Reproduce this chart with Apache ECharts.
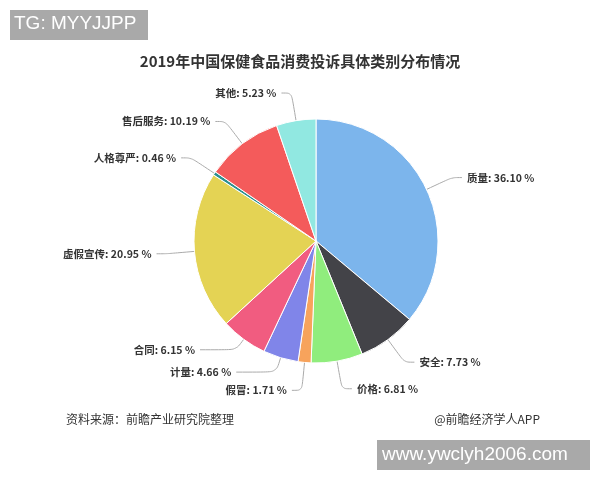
<!DOCTYPE html>
<html>
<head>
<meta charset="utf-8">
<script src="https://cdn.jsdelivr.net/npm/echarts@6/dist/echarts.min.js"></script>
<style>html,body{margin:0;padding:0;background:#fff}#c{width:600px;height:480px}</style>
</head>
<body>
<div id="c"></div>
<script>
var categories = ['质量', '安全', '价格', '假冒', '计量', '合同', '虚假宣传', '人格尊严', '售后服务', '其他'];
var values = [36.10, 7.73, 6.81, 1.71, 4.66, 6.15, 20.95, 0.46, 10.19, 5.23];
var colors = ['#7cb5ec', '#434348', '#90ed7d', '#f7a35c', '#8085e9', '#f15c80', '#e4d354', '#2b908f', '#f45b5b', '#91e8e1'];
var titleText = '2019年中国保健食品消费投诉具体类别分布情况';
var sourceText = '资料来源：前瞻产业研究院整理';
var creditText = '@前瞻经济学人APP';

// connector tweaks for the two lower-left labels (style only)
var lineTweaks = { '计量': { length: 15, length2: 40 }, '合同': { length: 13, length2: 36 } };

var chart = echarts.init(document.getElementById('c'));
var data = categories.map(function (c, i) {
  var d = { name: c, value: values[i] };
  if (lineTweaks[c]) d.labelLine = lineTweaks[c];
  return d;
});
chart.setOption({
  color: colors,
  animation: false,
  title: {
    text: titleText, left: 'center', top: 49,
    textStyle: { fontSize: 15, fontWeight: 'bold', color: '#333', fontFamily: 'Noto Sans CJK SC' }
  },
  graphic: [
    { type: 'rect', left: 10, top: 10, shape: { width: 138, height: 30 }, style: { fill: '#a9a9a9' } },
    { type: 'text', left: 14, top: 14, style: { text: 'TG: MYYJJPP', fill: '#fff', font: '19px "Liberation Sans", Arial' } },
    { type: 'rect', left: 377, top: 440, shape: { width: 213, height: 30 }, style: { fill: '#a9a9a9' } },
    { type: 'text', left: 382, top: 445, style: { text: 'www.ywclyh2006.com', fill: '#fff', font: '19px "Liberation Sans", Arial' } },
    { type: 'text', left: 66, top: 413, style: { text: sourceText, fill: '#333', font: '12px "Noto Sans CJK SC"' } },
    { type: 'text', right: 60, top: 413, style: { text: creditText, fill: '#333', font: '12px "Noto Sans CJK SC"' } }
  ],
  series: [{
    type: 'pie',
    center: [316, 241],
    radius: 122,
    startAngle: 90,
    clockwise: true,
    data: data,
    itemStyle: { borderColor: '#fff', borderWidth: 1 },
    label: {
      formatter: function (p) { return p.name + ': ' + p.value.toFixed(2) + ' %'; },
      fontSize: 10.5, fontWeight: 'bold', color: '#333', fontFamily: 'Noto Sans CJK SC'
    },
    labelLine: { length: 28, length2: 10, smooth: 0.3, lineStyle: { color: '#aaa', width: 1 } }
  }]
});
</script>
</body>
</html>
